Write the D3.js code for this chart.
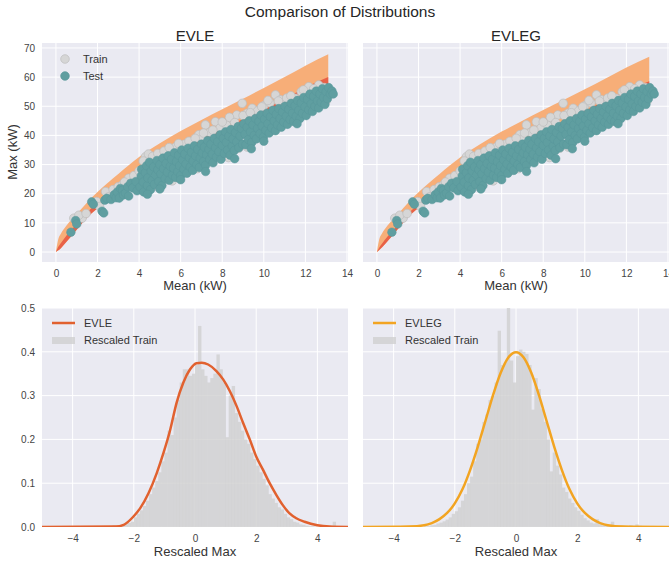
<!DOCTYPE html>
<html>
<head>
<meta charset="utf-8">
<script src="https://cdn.jsdelivr.net/npm/d3@7"></script>
<style>
body { margin: 0; background: #fff; }
text { font-family: "Liberation Sans", Arial, sans-serif; }
</style>
</head>
<body>
<script>
// ---- data ----
const meanTicks = [0, 2, 4, 6, 8, 10, 12, 14];
const maxTicks = [0, 10, 20, 30, 40, 50, 60, 70];
const rescTicks = [-4, -2, 0, 2, 4];
const densTicks = [0.0, 0.1, 0.2, 0.3, 0.4, 0.5];

// quantile band (x = mean kW)
const bandX = [0, 0.1, 0.25, 0.5, 1, 1.5, 2, 3, 4, 5, 6, 7, 8, 9, 10, 11, 12, 13.1];
const evleUpper = [0, 4, 6.4, 9, 13, 17, 20.6, 26.8, 32.6, 37.3, 41.5, 45.3, 49, 52.6, 56.3, 60, 63.9, 67.8];
const evleRed = [0, 1.6, 3.2, 5.6, 9.6, 13.6, 16.8, 22, 27, 31.4, 35.2, 38.8, 42.2, 45.6, 49, 52.5, 56.4, 60];
const evleLower = [0, 0.5, 1.4, 3.4, 7.6, 11.8, 15, 20.2, 25.4, 29.6, 33.2, 36.7, 40, 43.3, 46.6, 49.9, 53, 55.5];
const evlegUpper = [0, 4, 6.4, 9, 12.9, 16.9, 20.5, 26.7, 32.4, 37.1, 41.3, 45, 48.7, 52.2, 55.8, 59.5, 63.3, 67];
const evlegRed = [0, 1.4, 2.9, 5.2, 9.2, 13.2, 16.4, 21.6, 26.6, 31, 34.7, 38.2, 41.6, 45, 48.4, 51.9, 55.4, 58.6];
const evlegLower = [0, 0.6, 1.6, 3.6, 7.8, 12, 15.2, 20.4, 25.6, 29.8, 33.4, 36.9, 40.2, 43.5, 46.8, 50.1, 53.2, 56];

// scatter (mean, max)
const trainPts = [
  [0.86,11.6],[1.26,11.6],[1.1,12.6],[1.45,13.2],[1.96,17.3],[2.1,15.6],[2.39,20.7],[2.55,19.0],
  [2.75,21.4],[3.0,22.4],[3.19,23.0],[3.5,25.3],[3.3,24.0],[3.75,26.2],[4.0,27.8],
  [4.31,32.7],[4.5,31.0],[4.79,32.0],[5.11,33.3],[5.3,32.4],[5.5,34.4],[5.75,36.0],[6.0,35.2],
  [6.2,37.0],[6.55,36.7],[6.87,40.2],[7.0,38.6],[7.19,43.6],[7.4,41.0],[7.67,44.7],[7.9,42.6],
  [8.2,43.6],[8.5,45.4],[8.7,47.0],[8.96,51.0],[9.2,47.6],[9.44,49.3],[9.7,48.4],[10.0,50.2],
  [10.3,51.2],[10.56,53.9],[10.8,52.2],[11.1,52.8],[11.52,52.7],[11.8,55.0],[12.16,56.7],
  [12.64,57.3],[12.9,56.4],[13.1,55.6],[13.2,54.4],
  [4.2,31.2],[4.45,33.6],[4.65,32.8],[4.9,33.8],[5.2,34.6],[5.45,35.8],[5.9,37.2],[6.4,38.0],
  [6.7,39.0],[7.1,40.8],[7.55,41.8],[8.0,44.6],[8.35,46.2],[8.6,44.4],[9.0,46.8],[9.35,47.8],
  [9.9,49.8],[10.2,52.0],[10.7,51.8],[11.3,53.6],[11.9,55.6],[12.4,56.0],[12.75,55.0],
  [11.68,47.0],[10.88,43.6],[12.64,52.7],[8.8,35.6],[12.3,50.2],[12.0,48.4],[9.6,39.0],
  [13.0,51.8],[6.3,28.0],[7.8,33.0],[5.1,24.2],[10.3,41.4],
  [4.6,22.0],[5.6,24.4],[6.8,28.6],[8.3,32.4],[9.2,36.0],[11.2,44.4]
];
const testPts = [
  [0.72,6.8],[0.95,10.8],[1.0,9.6],[1.72,17.2],[1.8,16.4],[2.22,14.0],[2.3,13.4],[2.35,17.8],
  [2.45,18.4],[2.65,18.0],[2.8,19.6],[2.9,18.6],[2.95,20.6],[3.05,18.5],[3.1,21.8],[3.2,21.2],
  [3.25,19.6],[3.35,20.2],[3.5,19.2],[3.45,22.4],[3.6,23.6],[3.7,22.0],[3.85,24.2],[3.9,21.0],
  [4.05,22.3],[4.1,26.1],[4.12,28.4],[4.2,24.0],[4.22,20.6],[4.3,27.2],[4.36,29.6],[4.4,22.8],
  [4.42,25.4],[4.5,30.8],[4.55,21.4],[4.58,27.8],[4.63,24.6],[4.7,29.2],[4.74,23.2],[4.8,26.4],
  [4.86,31.4],[4.9,28.2],[4.95,24.2],[5.0,30.0],[5.05,26.8],[5.1,22.8],[5.15,32.2],[5.18,28.6],
  [5.25,25.2],[5.3,30.4],[5.36,27.4],[5.4,33.0],[5.45,24.6],[5.5,29.4],[5.56,31.8],[5.6,26.4],
  [5.66,28.8],[5.7,34.0],[5.76,25.6],[5.8,31.0],[5.86,27.6],[5.9,33.2],[5.95,29.6],[6.0,26.2],
  [6.05,35.0],[6.1,31.6],[6.15,28.4],[6.2,33.6],[6.26,30.2],[6.3,27.0],[6.36,35.6],[6.42,32.4],
  [6.46,29.2],[6.52,34.2],[6.58,28.0],[6.6,31.2],[6.66,36.4],[6.72,33.0],[6.78,30.0],[6.82,35.2],
  [6.9,29.0],[6.94,32.2],[7.0,37.0],[7.04,34.0],[7.1,31.0],[7.14,36.0],[7.2,29.8],[7.25,33.4],
  [7.3,38.2],[7.36,35.2],[7.4,31.8],[7.46,37.0],[7.52,33.6],[7.56,30.6],[7.62,39.0],[7.68,35.8],
  [7.72,32.6],[7.78,37.8],[7.84,34.4],[7.9,40.2],[7.94,31.8],[8.0,36.6],[8.05,39.0],[8.1,33.8],
  [8.16,41.2],[8.2,37.6],[8.26,35.0],[8.32,39.8],[8.38,33.2],[8.42,42.0],[8.48,36.4],[8.52,38.8],
  [8.58,34.8],[8.64,41.0],[8.7,37.8],[8.76,43.0],[8.8,35.8],[8.86,39.8],[8.92,42.4],[8.98,37.0],
  [9.04,44.0],[9.1,40.4],[9.14,36.8],[9.2,42.8],[9.26,38.6],[9.3,45.0],[9.36,41.2],[9.42,37.6],
  [9.48,43.6],[9.54,40.0],[9.6,45.8],[9.64,38.8],[9.7,42.4],[9.76,44.8],[9.82,40.6],[9.86,47.0],
  [9.92,43.2],[9.98,39.4],[10.04,45.6],[10.1,41.8],[10.16,47.6],[10.2,44.0],[10.26,40.8],
  [10.32,46.4],[10.38,42.6],[10.44,48.6],[10.5,45.0],[10.56,41.6],[10.6,47.2],[10.66,43.6],
  [10.72,49.2],[10.78,45.8],[10.84,42.8],[10.9,48.0],[10.96,44.6],[11.02,50.0],[11.08,46.6],
  [11.14,43.8],[11.2,49.0],[11.26,45.4],[11.32,51.0],[11.38,47.6],[11.44,44.8],[11.5,50.2],
  [11.56,46.6],[11.62,52.0],[11.68,48.6],[11.74,45.8],[11.8,51.2],[11.86,47.6],[11.92,53.0],
  [11.98,49.8],[12.04,46.8],[12.1,52.4],[12.16,48.8],[12.22,54.2],[12.28,50.8],[12.34,48.2],
  [12.4,53.4],[12.46,50.0],[12.52,55.2],[12.58,51.8],[12.64,49.4],[12.7,54.2],[12.76,51.4],
  [12.82,56.0],[12.88,53.0],[12.94,50.6],[13.0,55.0],[13.06,52.6],[13.12,56.4],[13.2,54.2],
  [13.28,55.2],[13.34,54.2],
  [7.2,27.6],[8.6,32.0],[10.0,38.0],[6.0,24.8],[5.0,21.6],[11.6,44.0],[4.4,19.8],[9.4,35.4]
];

// histograms of rescaled max, bin width 0.1
const binWidth = 0.1;
const evleHistStart = -2.7;
const evleHist = [
  0.004, 0.0, 0.002, 0.004, 0.006, 0.009, 0.012, 0.022, 0.03, 0.038,
  0.048, 0.06, 0.075, 0.09, 0.105, 0.125, 0.15, 0.17, 0.22, 0.21,
  0.25, 0.29, 0.33, 0.36, 0.36, 0.345, 0.35, 0.37, 0.459, 0.36,
  0.345, 0.33, 0.34, 0.35, 0.394, 0.36, 0.33, 0.205, 0.3, 0.322,
  0.26, 0.24, 0.22, 0.2, 0.19, 0.17, 0.155, 0.14, 0.125, 0.11,
  0.095, 0.075, 0.065, 0.055, 0.045, 0.04, 0.03, 0.022, 0.018, 0.012,
  0.01, 0.006, 0.005, 0.003, 0.002, 0.002, 0.001, 0.0, 0.0, 0.0,
  0.0, 0.0, 0.012, 0.0
];
const evlegHistStart = -3.0;
const evlegHist = [
  0.002, 0.002, 0.004, 0.005, 0.008, 0.01, 0.013, 0.017, 0.022, 0.03,
  0.036, 0.045, 0.06, 0.075, 0.1, 0.115, 0.15, 0.19, 0.2, 0.24,
  0.257, 0.29, 0.3, 0.33, 0.448, 0.37, 0.375, 0.53, 0.38, 0.33,
  0.39, 0.405, 0.4, 0.395, 0.37, 0.268, 0.34, 0.315, 0.27, 0.24,
  0.2, 0.127, 0.17, 0.14, 0.12, 0.09, 0.08, 0.065, 0.055, 0.045,
  0.037, 0.028, 0.02, 0.015, 0.01, 0.008, 0.018, 0.006, 0.004, 0.003,
  0.002, 0.012, 0.002, 0.002, 0.003, 0.002, 0.002, 0.004, 0.002, 0.006,
  0.003
];

// fitted densities
const evleCurve = [
  [-5,0],[-2.6,0.001],[-2.33,0.005],[-2.01,0.024],[-1.79,0.043],[-1.52,0.077],[-1.25,0.123],
  [-1.03,0.169],[-0.81,0.222],[-0.6,0.284],[-0.38,0.33],[-0.16,0.36],[0.05,0.374],[0.22,0.375],
  [0.43,0.371],[0.7,0.356],[0.92,0.337],[1.14,0.31],[1.36,0.276],[1.57,0.238],[1.79,0.2],
  [2.0,0.161],[2.22,0.131],[2.44,0.1],[2.66,0.073],[2.87,0.05],[3.09,0.031],[3.31,0.02],
  [3.58,0.012],[4.0,0.004],[4.4,0.001],[5,0]
];
const evlegCurve = [
  [-5,0],[-3.5,0.001],[-3,0.004],[-2.75,0.009],[-2.5,0.018],[-2.25,0.032],[-2,0.054],
  [-1.75,0.086],[-1.5,0.13],[-1.25,0.183],[-1,0.242],[-0.75,0.301],[-0.5,0.352],[-0.25,0.387],
  [0,0.399],[0.25,0.387],[0.5,0.352],[0.75,0.301],[1,0.242],[1.25,0.183],[1.5,0.13],
  [1.75,0.086],[2,0.054],[2.25,0.032],[2.5,0.018],[2.75,0.009],[3,0.004],[3.5,0.001],[5,0]
];

// ---- layout ----
const w = 669;
const h = 561;
const cols = [{ l: 42, r: 348 }, { l: 363, r: 669 }];
const topRow = { t: 43, b: 262 };
const botRow = { t: 308, b: 527 };

const bg = "#eaeaf2";
const textCol = "#333";
const trainFill = "#d6d6d6";
const trainEdge = "#bdbdbd";
const testFill = "#5f9ea0";
const testEdge = "#58979a";

const svg = d3.select("body").
append("svg").
attr("width", w).
attr("height", h);

const defs = svg.append("defs");

svg.append("text").
attr("x", 340).
attr("y", 17).
attr("text-anchor", "middle").
attr("font-size", 15.5).
attr("fill", "#262626").
text("Comparison of Distributions");

function makePanel(col, row, xDom, yDom, xt, yt, showY, id) {
  const x = d3.scaleLinear().domain(xDom).range([col.l, col.r]);
  const y = d3.scaleLinear().domain(yDom).range([row.b, row.t]);

  defs.append("clipPath").
  attr("id", id).
  append("rect").
  attr("x", col.l).
  attr("y", row.t).
  attr("width", col.r - col.l).
  attr("height", row.b - row.t);

  const g = svg.append("g");
  g.append("rect").
  attr("x", col.l).
  attr("y", row.t).
  attr("width", col.r - col.l).
  attr("height", row.b - row.t).
  attr("fill", bg);

  // white grid
  g.selectAll(".gx").data(xt).enter().append("line").
  attr("x1", d => x(d)).attr("x2", d => x(d)).
  attr("y1", row.t).attr("y2", row.b).
  attr("stroke", "#fff").attr("stroke-width", 1);
  g.selectAll(".gy").data(yt).enter().append("line").
  attr("y1", d => y(d)).attr("y2", d => y(d)).
  attr("x1", col.l).attr("x2", col.r).
  attr("stroke", "#fff").attr("stroke-width", 1);

  // axes, no tick marks like seaborn darkgrid
  const ax = g.append("g").
  attr("transform", "translate(0," + row.b + ")").
  call(d3.axisBottom(x).tickValues(xt).tickSize(0).tickPadding(8).tickFormat(d => d < 0 ? "\u2212" + Math.abs(d) : d));
  ax.select(".domain").remove();
  ax.selectAll("text").attr("font-size", 10).attr("fill", "#444").
  attr("font-family", "Liberation Sans, Arial, sans-serif");

  if (showY) {
    const fmt = yt[1] < 1 ? d3.format(".1f") : d3.format("d");
    const ay = g.append("g").
    attr("transform", "translate(" + col.l + ",0)").
    call(d3.axisLeft(y).tickValues(yt).tickSize(0).tickPadding(7).tickFormat(fmt));
    ay.select(".domain").remove();
    ay.selectAll("text").attr("font-size", 10).attr("fill", "#444").
    attr("font-family", "Liberation Sans, Arial, sans-serif");
  }

  const plot = svg.append("g").attr("clip-path", "url(#" + id + ")");
  return { x, y, plot };
}

const xTop = [-0.67, 14.05];
const yTop = [-3.43, 71.7];
const xBot = [-5, 5];
const yBot = [0, 0.5];

const p1 = makePanel(cols[0], topRow, xTop, yTop, meanTicks, maxTicks, true, "c1");
const p2 = makePanel(cols[1], topRow, xTop, yTop, meanTicks, maxTicks, false, "c2");
const p3 = makePanel(cols[0], botRow, xBot, yBot, rescTicks, densTicks, true, "c3");
const p4 = makePanel(cols[1], botRow, xBot, yBot, rescTicks, densTicks, false, "c4");

// ---- top row: bands + scatter ----
function drawTop(p, upper, red, lower) {
  const outer = d3.area().
  curve(d3.curveMonotoneX).
  x((d, i) => p.x(bandX[i])).
  y0((d, i) => p.y(lower[i])).
  y1((d, i) => p.y(upper[i]));
  const inner = d3.area().
  curve(d3.curveMonotoneX).
  x((d, i) => p.x(bandX[i])).
  y0((d, i) => p.y(lower[i])).
  y1((d, i) => p.y(red[i]));

  p.plot.append("path").datum(bandX).
  attr("d", outer).
  attr("fill", "#f7ae78");
  p.plot.append("path").datum(bandX).
  attr("d", inner).
  attr("fill", "#e5533e").
  attr("opacity", 0.85);

  p.plot.selectAll(".train").data(trainPts).enter().append("circle").
  attr("cx", d => p.x(d[0])).
  attr("cy", d => p.y(d[1])).
  attr("r", 4.3).
  attr("fill", trainFill).
  attr("stroke", trainEdge).
  attr("stroke-width", 0.7);

  p.plot.selectAll(".test").data(testPts).enter().append("circle").
  attr("cx", d => p.x(d[0])).
  attr("cy", d => p.y(d[1])).
  attr("r", 4.3).
  attr("fill", testFill).
  attr("stroke", testEdge).
  attr("stroke-width", 0.5);
}

drawTop(p1, evleUpper, evleRed, evleLower);
drawTop(p2, evlegUpper, evlegRed, evlegLower);

// ---- bottom row: histograms + densities ----
function drawBot(p, start, hist, curve, color) {
  p.plot.selectAll(".bar").data(hist).enter().append("rect").
  attr("x", (d, i) => p.x(start + i * binWidth)).
  attr("width", (d, i) => p.x(start + (i + 1) * binWidth) - p.x(start + i * binWidth) + 0.3).
  attr("y", d => p.y(d)).
  attr("height", d => p.y(0) - p.y(d)).
  attr("fill", "#cfcfcf").
  attr("opacity", 0.8);

  p.plot.append("path").datum(curve).
  attr("d", d3.line().curve(d3.curveMonotoneX).x(d => p.x(d[0])).y(d => p.y(d[1]))).
  attr("fill", "none").
  attr("stroke", color).
  attr("stroke-width", 2.5);
}

drawBot(p3, evleHistStart, evleHist, evleCurve, "#e1612f");
drawBot(p4, evlegHistStart, evlegHist, evlegCurve, "#f2a422");

// ---- titles & axis labels ----
const subTitles = ["EVLE", "EVLEG"];
cols.forEach((c, i) => {
  const cx = (c.l + c.r) / 2;
  svg.append("text").
  attr("x", cx).attr("y", 41).
  attr("text-anchor", "middle").
  attr("font-size", 15).
  attr("fill", "#262626").
  text(subTitles[i]);
  svg.append("text").
  attr("x", cx).attr("y", 290).
  attr("text-anchor", "middle").
  attr("font-size", 13).
  attr("fill", "#333").
  text("Mean (kW)");
  svg.append("text").
  attr("x", cx).attr("y", 556).
  attr("text-anchor", "middle").
  attr("font-size", 13).
  attr("fill", "#333").
  text("Rescaled Max");
});

svg.append("text").
attr("transform", "translate(17,152) rotate(-90)").
attr("text-anchor", "middle").
attr("font-size", 13).
attr("fill", "#333").
text("Max (kW)");

// ---- legends ----
const sLeg = svg.append("g").attr("transform", "translate(" + cols[0].l + "," + topRow.t + ")");
const sItems = [{ name: "Train", fill: trainFill, stroke: trainEdge }, { name: "Test", fill: testFill, stroke: testEdge }];
sItems.forEach((it, i) => {
  sLeg.append("circle").
  attr("cx", 23).attr("cy", 16 + i * 17).attr("r", 4.3).
  attr("fill", it.fill).attr("stroke", it.stroke).attr("stroke-width", 0.7);
  sLeg.append("text").
  attr("x", 41).attr("y", 20 + i * 17).
  attr("font-size", 11).attr("fill", textCol).
  text(it.name);
});

const hLegNames = [["EVLE", "#e1612f"], ["EVLEG", "#f2a422"]];
cols.forEach((c, i) => {
  const lg = svg.append("g").attr("transform", "translate(" + c.l + "," + botRow.t + ")");
  lg.append("line").
  attr("x1", 10).attr("x2", 33).attr("y1", 15).attr("y2", 15).
  attr("stroke", hLegNames[i][1]).attr("stroke-width", 2.5);
  lg.append("text").
  attr("x", 42).attr("y", 19).
  attr("font-size", 11).attr("fill", textCol).
  text(hLegNames[i][0]);
  lg.append("rect").
  attr("x", 10).attr("y", 29).attr("width", 23).attr("height", 7).
  attr("fill", "#cfcfcf").attr("opacity", 0.8);
  lg.append("text").
  attr("x", 42).attr("y", 36).
  attr("font-size", 11).attr("fill", textCol).
  text("Rescaled Train");
});
</script>
</body>
</html>
